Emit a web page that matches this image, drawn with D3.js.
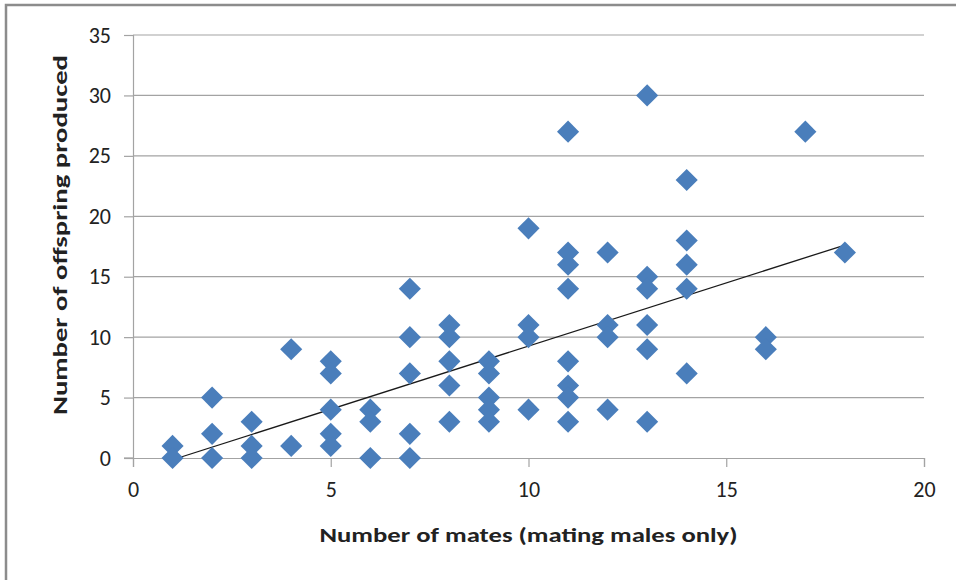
<!DOCTYPE html>
<html>
<head>
<meta charset="utf-8">
<script src="https://cdn.jsdelivr.net/npm/d3@7"></script>
<style>
  html, body { margin: 0; padding: 0; background: #fff; }
  svg { display: block; }
  text { font-family: Calibri, Carlito, Lato, "Open Sans", sans-serif; fill: #222; }
</style>
</head>
<body>
<svg id="chart" width="956" height="580"></svg>
<script>
// Number of mates for each mating male
const mates = [
  1, 1,
  2, 2, 2,
  3, 3, 3,
  4, 4,
  5, 5, 5, 5, 5,
  6, 6, 6,
  7, 7, 7, 7, 7,
  8, 8, 8, 8, 8,
  9, 9, 9, 9, 9,
  10, 10, 10, 10,
  11, 11, 11, 11, 11, 11, 11, 11,
  12, 12, 12, 12,
  13, 13, 13, 13, 13, 13,
  14, 14, 14, 14, 14,
  16, 16,
  17,
  18
];

// Offspring produced by the same male (same order as mates)
const offspring = [
  1, 0,
  5, 2, 0,
  3, 1, 0,
  9, 1,
  8, 7, 4, 2, 1,
  4, 3, 0,
  14, 10, 7, 2, 0,
  11, 10, 8, 6, 3,
  8, 7, 5, 4, 3,
  19, 11, 10, 4,
  27, 17, 16, 14, 8, 6, 5, 3,
  17, 11, 10, 4,
  30, 15, 14, 11, 9, 3,
  23, 18, 16, 14, 7,
  10, 9,
  27,
  17
];

// Linear trendline (offspring = slope * mates + intercept)
const trendSlope = 1.045;
const trendIntercept = -1.19;

const xTicks = [0, 5, 10, 15, 20];
const yTicks = [0, 5, 10, 15, 20, 25, 30, 35];

const xTitle = "Number of mates (mating males only)";
const yTitle = "Number of offspring produced";

const svg = d3.select("#chart");

const x = d3.scaleLinear().domain([0, 20]).range([133, 924]);
const y = d3.scaleLinear().domain([0, 35]).range([458, 35]);

// Outer chart frame
svg.append("rect")
  .attr("x", 6).attr("y", 5)
  .attr("width", 1000).attr("height", 700)
  .attr("fill", "none")
  .attr("stroke", "#8c8c8c")
  .attr("stroke-width", 2.5);

// Horizontal gridlines
svg.append("g")
  .selectAll("line")
  .data(yTicks.filter(d => d > 0))
  .join("line")
  .attr("x1", x(0)).attr("x2", x(20))
  .attr("y1", d => y(d)).attr("y2", d => y(d))
  .attr("stroke", "#a3a3a3")
  .attr("stroke-width", 1.2);

// Y axis
const yAxis = svg.append("g")
  .attr("transform", `translate(${x(0)},0)`)
  .call(d3.axisLeft(y).tickValues(yTicks).tickSize(9).tickPadding(13));
yAxis.select(".domain").attr("stroke", "#a3a3a3").attr("stroke-width", 1.2);
yAxis.selectAll(".tick line").attr("stroke", "#a3a3a3").attr("stroke-width", 1.2);
yAxis.selectAll(".tick text")
  .attr("font-size", 22)
  .attr("font-family", "Calibri, Carlito, Lato, sans-serif")
  .attr("fill", "#222");

// X axis
const xAxis = svg.append("g")
  .attr("transform", `translate(0,${y(0)})`)
  .call(d3.axisBottom(x).tickValues(xTicks).tickSize(9).tickPadding(14));
xAxis.select(".domain").attr("stroke", "#a3a3a3").attr("stroke-width", 1.2);
xAxis.selectAll(".tick line").attr("stroke", "#a3a3a3").attr("stroke-width", 1.2);
xAxis.selectAll(".tick text")
  .attr("font-size", 22)
  .attr("font-family", "Calibri, Carlito, Lato, sans-serif")
  .attr("fill", "#222");

// Extend the zero line left to form its tick
svg.append("line")
  .attr("x1", x(0) - 9).attr("x2", x(0))
  .attr("y1", y(0)).attr("y2", y(0))
  .attr("stroke", "#a3a3a3").attr("stroke-width", 1.2);

// Trendline across the observed range
const xMin = d3.min(mates), xMax = d3.max(mates);
svg.append("line")
  .attr("x1", x(xMin)).attr("y1", y(trendSlope * xMin + trendIntercept))
  .attr("x2", x(xMax)).attr("y2", y(trendSlope * xMax + trendIntercept))
  .attr("stroke", "#1a1a1a")
  .attr("stroke-width", 1.3);

// Diamond markers
const diamond = d3.symbol().type(d3.symbolSquare).size(245);
svg.append("g")
  .selectAll("path")
  .data(mates.map((m, i) => ({ m, o: offspring[i] })))
  .join("path")
  .attr("d", diamond)
  .attr("transform", d => `translate(${x(d.m)},${y(d.o)}) rotate(45)`)
  .attr("fill", "#4a7ebb");

// Axis titles
svg.append("text")
  .attr("x", (x(0) + x(20)) / 2)
  .attr("y", 542)
  .attr("text-anchor", "middle")
  .attr("font-size", 21)
  .attr("font-weight", "bold")
  .attr("textLength", 418)
  .attr("lengthAdjust", "spacingAndGlyphs")
  .text(xTitle);

svg.append("text")
  .attr("transform", `translate(67,235) rotate(-90)`)
  .attr("text-anchor", "middle")
  .attr("font-size", 21)
  .attr("font-weight", "bold")
  .attr("textLength", 360)
  .attr("lengthAdjust", "spacingAndGlyphs")
  .text(yTitle);
</script>
</body>
</html>
